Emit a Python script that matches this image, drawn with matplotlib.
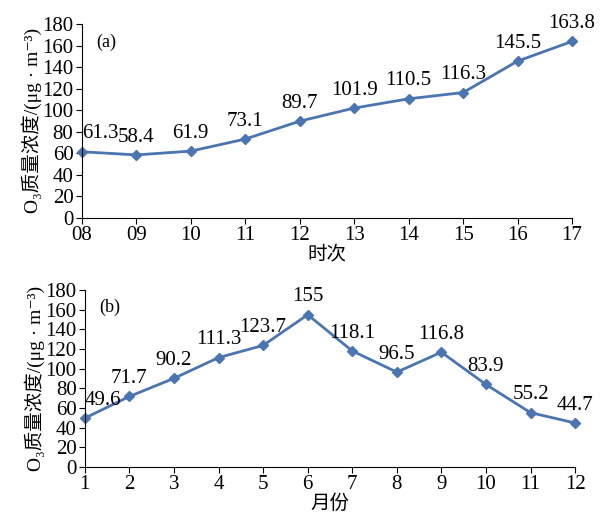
import matplotlib
matplotlib.use("Agg")
import matplotlib.pyplot as plt

plt.rcParams['font.family'] = ['Liberation Serif', 'Noto Sans CJK SC', 'DejaVu Serif']

# data
hours = ["08", "09", "10", "11", "12", "13", "14", "15", "16", "17"]
hour_vals = [61.3, 58.4, 61.9, 73.1, 89.7, 101.9, 110.5, 116.3, 145.5, 163.8]
months = ["1", "2", "3", "4", "5", "6", "7", "8", "9", "10", "11", "12"]
month_vals = [49.6, 71.7, 90.2, 111.3, 123.7, 155, 118.1, 96.5, 116.8, 83.9, 55.2, 44.7]

color = "#4a75b0"
ylabel = "O₃质量浓度/(μg · m⁻³)"

fig = plt.figure(figsize=(6.06, 5.21), dpi=100)
ax1 = fig.add_axes([0.135, 0.582, 0.809, 0.372])
ax2 = fig.add_axes([0.140, 0.104, 0.809, 0.339])

def draw(ax, labels, vals, xlabel, tag):
    x = list(range(len(vals)))
    ax.plot(x, vals, color=color, lw=2, marker="D", ms=5, clip_on=False)
    for xi, v in zip(x, vals):
        ha = "left" if xi == 0 else "center"
        ax.annotate(f"{v:g}", (xi, v), xytext=(0, 6), textcoords="offset points",
                    ha=ha, va="bottom", fontsize=15, annotation_clip=False)
    ax.set_xlim(0, len(vals) - 1)
    ax.set_ylim(0, 180)
    ax.set_yticks(range(0, 181, 20))
    ax.set_xticks(x)
    ax.set_xticklabels(labels)
    ax.tick_params(labelsize=15, length=4, direction="out", pad=2)
    ax.spines["top"].set_visible(False)
    ax.spines["right"].set_visible(False)
    ax.set_xlabel(xlabel, fontsize=14, labelpad=0)
    ax.set_ylabel(ylabel, fontsize=14, labelpad=0)
    ax.text(0.03, 0.95, tag, transform=ax.transAxes, fontsize=13, va="top")

draw(ax1, hours, hour_vals, "时次", "(a)")
draw(ax2, months, month_vals, "月份", "(b)")

fig.savefig("out.png", dpi=100)
